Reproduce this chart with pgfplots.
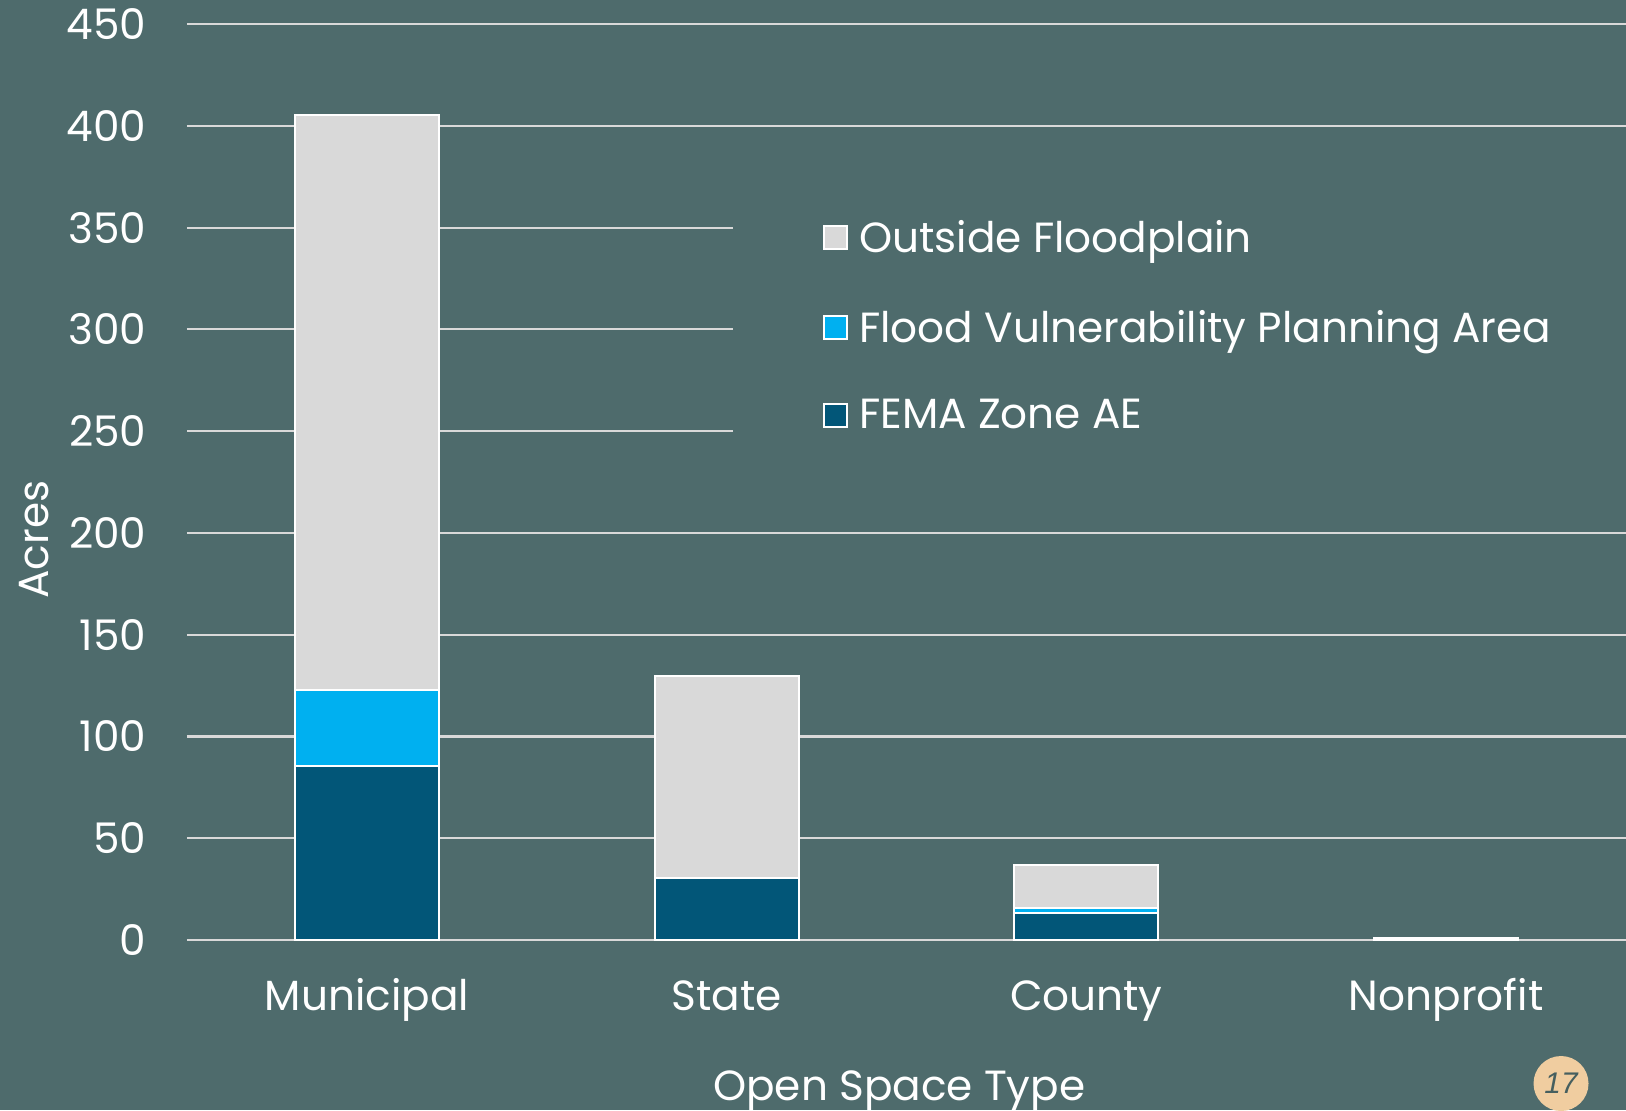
\documentclass[border=0pt]{standalone}
\usepackage{fontspec}
\setmainfont{Poppins}
\newfontfamily\numfont{Liberation Sans}
\usepackage{pgfplots}
\usepackage{pgfplotstable}
\pgfplotsset{compat=1.18}

\definecolor{bgcol}{RGB}{78,107,108}
\definecolor{gridcol}{RGB}{217,217,217}
\definecolor{femacol}{RGB}{2,86,120}
\definecolor{fvpacol}{RGB}{0,176,240}
\definecolor{outcol}{RGB}{217,217,217}
\definecolor{pagecol}{RGB}{240,205,160}
\definecolor{numcol}{RGB}{70,95,95}

% acres by open space type
\pgfplotstableread{
x fema fvpa outside
0 85.5 37.3 282.5
1 30.6 0    99.1
2 13.3 2.5  21.0
3 0    0    1.2
}\acres

\newcommand{\chartfont}{\fontsize{12}{14.4}\selectfont}

\begin{document}
\begin{tikzpicture}
\fill[bgcol] (-1.87,-1.70) rectangle (14.39,9.40);
\path[use as bounding box] (-1.87,-1.70) rectangle (14.39,9.40);
\begin{axis}[
    width=14.39cm, height=9.16cm, scale only axis,
    at={(0,0)}, anchor=south west,
    xmin=-0.5, xmax=3.5, ymin=0, ymax=450,
    ybar stacked, bar width=1.44cm,
    xtick={0,1,2,3},
    xticklabels={Municipal,State,County,Nonprofit},
    ytick={0,50,...,450},
    major tick length=0,
    axis line style={draw=none},
    ymajorgrids,
    grid style={color=gridcol, line width=0.6pt},
    /pgf/number format/assume math mode=true,
    tick label style={text=white, font=\chartfont},
    yticklabel style={anchor=east, inner sep=0pt, xshift=-0.40cm},
    xticklabel style={anchor=base, inner sep=0pt, yshift=-0.70cm},
    xlabel={Open Space Type},
    xlabel style={at={(axis description cs:0.495,0)}, anchor=base, yshift=-1.60cm, text=white, font=\chartfont},
    ylabel={Acres},
    ylabel style={at={([xshift=-1.38cm]axis description cs:0,0.437)}, anchor=base, text=white, font=\chartfont},
    reverse legend,
    legend cell align=left,
    legend style={at={(0.379,0.843)}, anchor=north west, fill=bgcol, draw=none,
        inner xsep=0.9cm, inner ysep=0.45cm, row sep=0.38cm,
        text=white, font=\chartfont,
        /tikz/every odd column/.append style={column sep=0.04cm}},
    mybar/.style={draw=white, line width=0.6pt, fill=#1,
        legend image code/.code={\draw[fill=#1, draw=white, line width=0.6pt] (0cm,-0.10cm) rectangle (0.23cm,0.13cm);}},
]
\addplot[mybar=femacol] table[x=x, y=fema] {\acres};
\addplot[mybar=fvpacol] table[x=x, y=fvpa] {\acres};
\addplot[mybar=outcol] table[x=x, y=outside] {\acres};
\legend{FEMA Zone AE, Flood Vulnerability Planning Area, Outside Floodplain}
\end{axis}
\fill[pagecol] (13.74,-1.435) circle (0.275cm);
\node[text=numcol, font=\numfont\fontsize{8.5}{10}\selectfont\itshape] at (13.74,-1.435) {17};
\end{tikzpicture}
\end{document}
